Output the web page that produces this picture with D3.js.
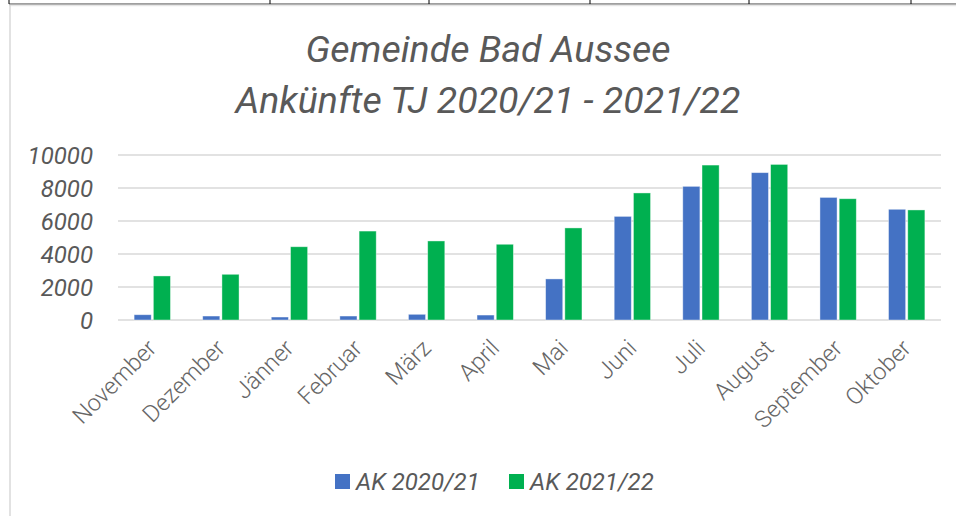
<!DOCTYPE html>
<html>
<head>
<meta charset="utf-8">
<script src="https://cdn.jsdelivr.net/npm/d3@7"></script>
<style>
  html, body { margin: 0; padding: 0; background: #fff; }
  svg { display: block; font-family: Roboto, "Open Sans", sans-serif; }
</style>
</head>
<body>
<svg id="chart" width="956" height="516"></svg>
<script>
const months = ["November","Dezember","Jänner","Februar","März","April","Mai","Juni","Juli","August","September","Oktober"];
const seriesNames = ["AK 2020/21","AK 2021/22"];
const ak2021 = [320, 240, 180, 240, 345, 300, 2490, 6280, 8100, 8930, 7430, 6710];
const ak2122 = [2670, 2770, 4440, 5390, 4790, 4590, 5580, 7700, 9390, 9430, 7350, 6670];
const yTicks = [0, 2000, 4000, 6000, 8000, 10000];
const titleLines = ["Gemeinde Bad Aussee", "Ankünfte TJ 2020/21 - 2021/22"];
const colors = ["#4472C4", "#00B050"];
const topTicks = [9, 270, 429, 590, 749, 911];

const svg = d3.select("#chart");
const W = 956, H = 516;

// Decorative frame (cell borders)
svg.append("line").attr("x1", 9).attr("x2", W).attr("y1", 4).attr("y2", 4)
  .attr("stroke", "#7f7f7f").attr("stroke-width", 1.5);
svg.append("line").attr("x1", 9).attr("x2", W).attr("y1", 5.5).attr("y2", 5.5)
  .attr("stroke", "#e6e6e6").attr("stroke-width", 1.5);
svg.selectAll("line.tt").data(topTicks).enter().append("line")
  .attr("x1", d => d).attr("x2", d => d).attr("y1", 0).attr("y2", 4)
  .attr("stroke", "#000").attr("stroke-width", 1);
svg.append("line").attr("x1", 10).attr("x2", 10).attr("y1", 5).attr("y2", H)
  .attr("stroke", "#d9d9d9").attr("stroke-width", 1.5);

const x0 = d3.scaleBand().domain(months).range([118, 941]).paddingInner(0.47).paddingOuter(0.235);
const x1 = d3.scaleBand().domain(seriesNames).range([0, x0.bandwidth()]).paddingInner(0.11);
const y = d3.scaleLinear().domain([0, 10000]).range([320, 155]);

// Gridlines
svg.append("g").selectAll("line").data(yTicks).enter().append("line")
  .attr("x1", 118).attr("x2", 941)
  .attr("y1", d => y(d)).attr("y2", d => y(d))
  .attr("stroke", "#d9d9d9").attr("stroke-width", 1.5);

// Y axis labels
const yAxis = d3.axisLeft(y).tickValues(yTicks).tickSize(0).tickPadding(0).tickFormat(d3.format("d"));
const yg = svg.append("g").attr("transform", "translate(93,0)").call(yAxis);
yg.select(".domain").remove();
yg.selectAll("text")
  .attr("fill", "#595959").attr("font-size", 24).attr("font-style", "italic")
  .attr("font-family", "Roboto").attr("dy", "0.36em");

// Bars
const data = months.map((m, i) => ({ m, vals: [ak2021[i], ak2122[i]] }));
const groups = svg.append("g").selectAll("g").data(data).enter().append("g")
  .attr("transform", d => `translate(${x0(d.m)},0)`);
groups.selectAll("rect").data(d => d.vals.map((v, k) => ({ k, v }))).enter().append("rect")
  .attr("x", d => x1(seriesNames[d.k]))
  .attr("width", x1.bandwidth())
  .attr("y", d => y(d.v))
  .attr("height", d => y(0) - y(d.v))
  .attr("fill", d => colors[d.k])
  .attr("stroke", "#ffffff").attr("stroke-opacity", 0.5).attr("stroke-width", 0.8);

// X axis labels
const xAxis = d3.axisBottom(x0).tickSize(0).tickPadding(0);
const xg = svg.append("g").attr("transform", "translate(0,338)").call(xAxis);
xg.select(".domain").remove();
xg.selectAll("text")
  .attr("fill", "#666666").attr("font-size", 23.5).attr("font-weight", 300)
  .attr("font-family", "Roboto")
  .attr("text-anchor", "end")
  .attr("dy", "0.7em")
  .attr("transform", "translate(-6,0) rotate(-45)");

// Title
svg.append("g").selectAll("text").data(titleLines).enter().append("text")
  .attr("x", 488).attr("y", (d, i) => 62 + i * 51)
  .attr("text-anchor", "middle")
  .attr("font-size", 37.5).attr("font-style", "italic").attr("font-family", "Roboto")
  .attr("fill", "#595959")
  .text(d => d);

// Legend
const legendX = [335, 509];
const lg = svg.append("g").selectAll("g").data(seriesNames).enter().append("g")
  .attr("transform", (d, i) => `translate(${legendX[i]},0)`);
lg.append("rect").attr("x", 0).attr("y", 474).attr("width", 15).attr("height", 15)
  .attr("fill", (d, i) => colors[i]);
lg.append("text").attr("x", 21).attr("y", 490)
  .attr("font-size", 24).attr("font-style", "italic").attr("font-family", "Roboto")
  .attr("fill", "#595959").text(d => d);
</script>
</body>
</html>
